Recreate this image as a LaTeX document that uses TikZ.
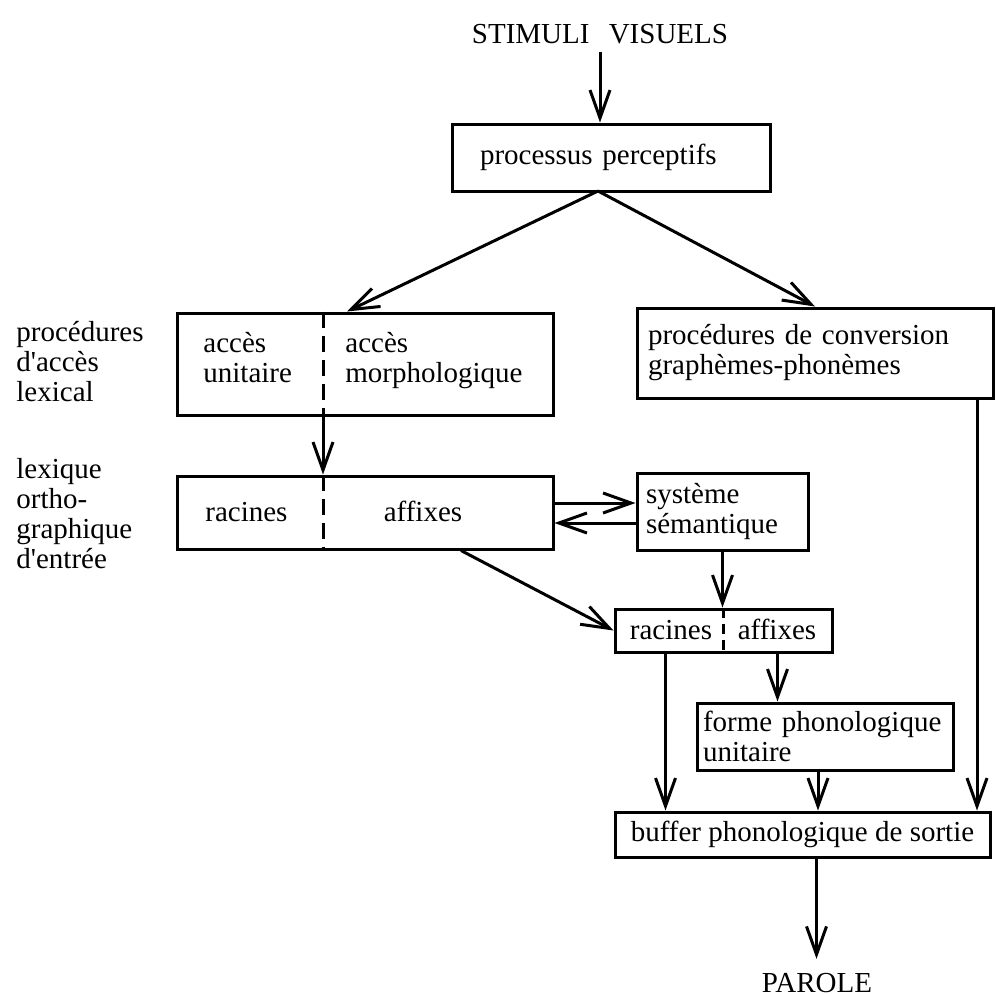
\documentclass[tikz,border=0pt]{standalone}
\usepackage{fontspec}
\setmainfont{Liberation Serif}[Ligatures=TeXOff]
\usetikzlibrary{arrows.meta}
\usetikzlibrary{positioning}
\begin{document}
\begin{tikzpicture}[x=0.5pt,y=-0.5pt,
    font=\fontsize{14.5}{15}\selectfont,
    box/.style={draw,line width=1.5pt,inner ysep=0pt,align=left},
    arr/.style={line width=1.5pt,-{Straight Barb[length=14pt,width=10pt,line width=1.5pt]}},
    divider/.style={line width=1.5pt,dash pattern=on 8pt off 4pt}]
    \useasboundingbox (0,0) rectangle (996,996);

    \node[inner sep=4pt] (stimuli_text) at (600,34) {STIMULI\hspace{6pt} VISUELS};
    \node[box,minimum height=33.5pt,inner xsep=14pt,text width=131pt] (percept_box) at (611,157.5) {processus perceptifs};

    \node[box,minimum width=188pt,minimum height=51pt] (acces_box) at (365,364) {};
    \node[box,minimum height=45pt,inner xsep=5.5pt,text width=167pt] (conv_box) at (815,353) {procédures de conversion\\graphèmes-phonèmes};
    \node[box,minimum width=188pt,minimum height=36.5pt] (lexique_box) at (365,512.5) {};
    \node[box,minimum height=38.5pt,inner xsep=4.5pt,text width=76.5pt] (sem_box) at (722.5,511.5) {système\\sémantique};
    \node[box,minimum width=108.5pt,minimum height=21.5pt] (roots_box) at (723.5,630.5) {};
    \node[box,minimum height=33.5pt,inner xsep=3pt,text width=122pt] (forme_box) at (825,736.5) {forme phonologique\\unitaire};
    \node[box,minimum width=187.5pt,minimum height=22.5pt] (buffer_box) at (802.5,834.5) {buffer phonologique de sortie};
    \node[inner ysep=7pt] (parole_text) at (817,983) {PAROLE};

    % texts in the split boxes
    \node[inner sep=0,anchor=north west,align=left] (unit_text) at (203,332) {accès\\unitaire};
    \node[inner sep=0,anchor=north west,align=left] (morph_text) at (345,332) {accès\\morphologique};
    \node[inner sep=0,anchor=base west] (racines_text) at (205,521) {racines};
    \node[inner sep=0,anchor=base] (affixes_text) at (423,521) {affixes};
    \node[inner sep=0,anchor=base] (roots_racines) at (671,639) {racines};
    \node[inner sep=0,anchor=base] (roots_affixes) at (777,639) {affixes};

    % side labels
    \node[inner sep=0,anchor=west,align=left] (acces_label) at (16,362) {procédures\\d'accès\\lexical};
    \node[inner sep=0,anchor=west,align=left] (lexique_label) at (16,514) {lexique\\ortho-\\graphique\\d'entrée};

    \draw[divider] ([xshift=-21pt]acces_box.north) -- ([xshift=-21pt]acces_box.south);
    \draw[divider] ([xshift=-21pt]lexique_box.north) -- ([xshift=-21pt]lexique_box.south);
    \draw[divider,dash pattern=on 5pt off 3pt] (roots_box.north) -- (roots_box.south);

    \coordinate (fork) at (598,191);
    \draw[arr] (stimuli_text.south) -- (stimuli_text.south |- percept_box.north);
    \draw[arr] (fork) -- ([xshift=-9pt]acces_box.north);
    \draw[arr] (fork) -- (conv_box.north);
    \draw[arr] ([xshift=-21pt]acces_box.south) -- ([xshift=-21pt]lexique_box.north);
    \draw[arr] ([yshift=4.75pt]lexique_box.east) -- ([yshift=4.75pt]lexique_box.east -| sem_box.west);
    \draw[arr] ([yshift=-5.25pt]lexique_box.east -| sem_box.west) -- ([yshift=-5.25pt]lexique_box.east);
    \draw[arr] ([xshift=48pt]lexique_box.south) -- (roots_box.west);
    \draw[arr] (sem_box.south) -- (sem_box.south |- roots_box.north);
    \draw[arr] ([xshift=-29pt]roots_box.south) -- ([xshift=-29pt]roots_box.south |- buffer_box.north);
    \draw[arr] ([xshift=27pt]roots_box.south) -- ([xshift=27pt]roots_box.south |- forme_box.north);
    \draw[arr] ([xshift=-3.5pt]forme_box.south) -- ([xshift=-3.5pt]forme_box.south |- buffer_box.north);
    \draw[arr] ([xshift=81pt]conv_box.south) -- ([xshift=81pt]conv_box.south |- buffer_box.north);
    \draw[arr] ([xshift=7pt]buffer_box.south) -- ([xshift=7pt]buffer_box.south |- parole_text.north);

\end{tikzpicture}
\end{document}
